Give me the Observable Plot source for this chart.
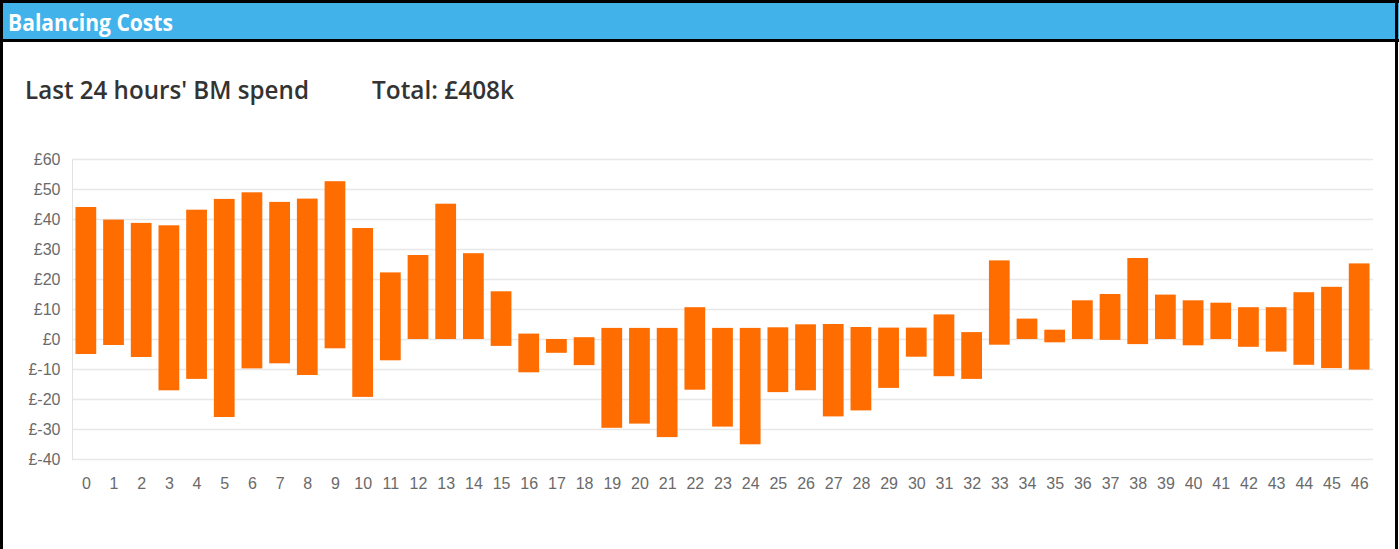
<!DOCTYPE html>
<html>
<head>
<meta charset="utf-8">
<script src="https://cdn.jsdelivr.net/npm/d3@7"></script>
<script src="https://cdn.jsdelivr.net/npm/@observablehq/plot@0.6"></script>
<style>
  html, body { margin: 0; padding: 0; background: #fff; }
  #wrap { position: relative; width: 1399px; height: 549px; overflow: hidden; background: #fff; }
  .blk { position: absolute; background: #000; }
  #header { position: absolute; left: 0; top: 3px; width: 1399px; height: 36px; background: #41b3ea; }
  #htitle { position: absolute; left: 8px; top: 3px; font-family: "Open Sans", sans-serif; font-weight: 700; font-size: 24px; color: #fff; line-height: 32px; transform-origin: 0 50%; white-space: nowrap; }
  .sub { position: absolute; top: 71px; font-family: "Open Sans", sans-serif; font-weight: 600; font-size: 26px; color: #333; line-height: 36px; transform-origin: 0 50%; white-space: nowrap; }
  #chart { position: absolute; left: 0; top: 140px; }
  #chart text { font-family: "Liberation Sans Narrow", "Liberation Sans", Arial, sans-serif; }
</style>
</head>
<body>
<div id="wrap">
  <div id="header"><div id="htitle" data-w="165">Balancing Costs</div></div>
  <div class="blk" style="left:0;top:0;width:1399px;height:3px;"></div>
  <div class="blk" style="left:0;top:39px;width:1399px;height:3px;"></div>
  <div class="blk" style="left:0;top:0;width:3px;height:549px;"></div>
  <div class="blk" style="left:1395px;top:0;width:3px;height:549px;"></div>
  <div class="sub" style="left:25px;" data-w="284">Last 24 hours' BM spend</div>
  <div class="sub" style="left:372px;" data-w="142">Total: £408k</div>
  <div id="chart"></div>
</div>
<script>
const periods = d3.range(0, 47).map(String);
const lows = [-5, -2, -6, -17.1, -13.3, -26, -9.8, -8.1, -12, -3.1, -19.3, -7.1, 0, 0, 0, -2.3, -11.1, -4.6, -8.7, -29.6, -28.2, -32.7, -16.9, -29.2, -35.1, -17.7, -17.1, -25.8, -23.8, -16.3, -5.9, -12.4, -13.3, -1.9, 0, -1.1, 0, -0.3, -1.7, 0, -2.1, 0, -2.6, -4.2, -8.6, -9.7, -10.2];
const highs = [44, 39.8, 38.7, 37.9, 43.1, 46.7, 48.9, 45.7, 46.8, 52.6, 37, 22.2, 28, 45.1, 28.6, 15.9, 1.8, 0, 0.6, 3.7, 3.7, 3.7, 10.6, 3.7, 3.7, 3.9, 4.9, 5, 4, 3.8, 3.8, 8.2, 2.3, 26.2, 6.8, 3.1, 12.9, 15, 27, 14.8, 12.9, 12.1, 10.6, 10.6, 15.6, 17.4, 25.2];
const yTicks = [-40, -30, -20, -10, 0, 10, 20, 30, 40, 50, 60];

const data = periods.map((p, i) => ({ period: p, low: lows[i], high: highs[i] }));

const chart = Plot.plot({
  width: 1399,
  height: 360,
  marginLeft: 72,
  marginRight: 26,
  marginTop: 19,
  marginBottom: 41,
  style: { background: "transparent", fontSize: "16px", color: "#666" },
  x: { domain: periods, paddingInner: 0.25, paddingOuter: 0.125, label: null },
  y: { domain: [-40, 60], label: null },
  marks: [
    Plot.ruleY(yTicks, { stroke: "#e8e8e8", strokeWidth: 1.3 }),
    Plot.frame({ anchor: "left", stroke: "#e2e2e2" }),
    Plot.barY(data, { x: "period", y1: "low", y2: "high", fill: "#ff6d00" }),
    Plot.axisX({ tickSize: 0, tickPadding: 18, fill: "#6a6a6a", fontSize: 16 }),
    Plot.axisY({ ticks: yTicks, tickFormat: d => "£" + d, tickSize: 0, tickPadding: 12, fill: "#6a6a6a", fontSize: 16 })
  ]
});
document.getElementById("chart").appendChild(chart);

// squeeze the HTML headings to the reference's narrow letterforms
document.querySelectorAll("[data-w]").forEach(el => {
  const w = el.getBoundingClientRect().width;
  el.style.transform = `scaleX(${(+el.dataset.w / w).toFixed(3)})`;
});
</script>
</body>
</html>
